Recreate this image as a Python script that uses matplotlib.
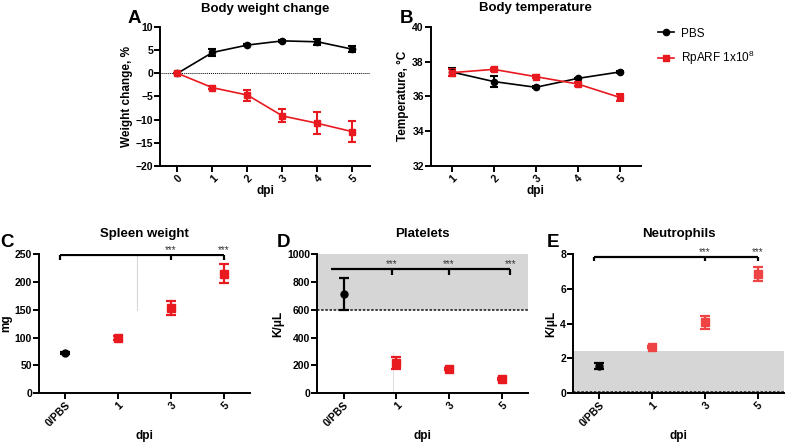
import matplotlib
matplotlib.use("Agg")
import matplotlib.pyplot as plt
from matplotlib.lines import Line2D

plt.rcParams['font.family'] = ['Liberation Sans', 'DejaVu Sans']
plt.rcParams['font.weight'] = 'bold'

# ---- data ----
days_a = [0, 1, 2, 3, 4, 5]
pbs_weight = [0, 4.5, 6.1, 7.0, 6.8, 5.2]
pbs_weight_err = [0, 0.8, 0.3, 0.2, 0.6, 0.6]
rp_weight = [0, -3.1, -4.7, -9.2, -10.8, -12.6]
rp_weight_err = [0, 0.3, 1.2, 1.4, 2.4, 2.2]

days_b = [1, 2, 3, 4, 5]
pbs_temp = [37.4, 36.85, 36.52, 37.03, 37.4]
pbs_temp_err = [0.25, 0.3, 0.05, 0.05, 0.05]
rp_temp = [37.36, 37.55, 37.13, 36.71, 35.94]
rp_temp_err = [0.2, 0.08, 0.08, 0.1, 0.18]

groups = ['0/PBS', '1', '3', '5']
spleen = [73, 99, 153, 215]
spleen_err = [2, 3, 12, 17]
platelets = [714, 216, 174, 104]
platelets_err = [115, 45, 10, 8]
neutrophils = [1.57, 2.68, 4.07, 6.83]
neutrophils_err = [0.15, 0.05, 0.38, 0.40]

RED = '#e8191f'
TICK_FS = 7.5
LAB_FS = 8.5
TITLE_FS = 9.5
fig = plt.figure(figsize=(7.85, 4.45), dpi=100)


def style(ax):
    for s in ['top', 'right']:
        ax.spines[s].set_visible(False)
    for s in ['left', 'bottom']:
        ax.spines[s].set_linewidth(1.4)
    ax.tick_params(direction='out', length=4, width=1.4, labelsize=TICK_FS, pad=1)
    for lab in ax.get_yticklabels():
        lab.set_fontweight('bold')


def xrot(ax, labels):
    ax.set_xticklabels(labels, rotation=45, ha='right', rotation_mode='anchor',
                       fontsize=TICK_FS, fontweight='bold')


# ---- A: body weight change ----
axA = fig.add_axes([0.2038, 0.627, 0.2675, 0.3124])
axA.axhline(0, color='black', lw=0.7, ls=(0, (1, 1)))
axA.errorbar(days_a, pbs_weight, yerr=pbs_weight_err, color='black', marker='o',
             ms=4.5, lw=1.2, elinewidth=1.5, capsize=3, capthick=1.5)
axA.errorbar(days_a, rp_weight, yerr=rp_weight_err, color=RED, marker='s',
             ms=5, lw=1.2, elinewidth=1.5, capsize=3, capthick=1.5)
axA.set_xlim(-0.5, 5.5)
axA.set_ylim(-20, 10)
axA.set_yticks([-20, -15, -10, -5, 0, 5, 10])
axA.set_xticks(days_a)
style(axA)
xrot(axA, [str(d) for d in days_a])
axA.set_xlabel('dpi', fontsize=LAB_FS, fontweight='bold', labelpad=1)
axA.set_ylabel('Weight change, %', fontsize=LAB_FS, fontweight='bold', labelpad=2)
axA.set_title('Body weight change', fontsize=TITLE_FS, fontweight='bold', pad=11)

# ---- B: body temperature ----
axB = fig.add_axes([0.5487, 0.627, 0.2675, 0.313])
axB.errorbar(days_b, pbs_temp, yerr=pbs_temp_err, color='black', marker='o',
             ms=4.5, lw=1.2, elinewidth=1.5, capsize=3, capthick=1.5)
axB.errorbar(days_b, rp_temp, yerr=rp_temp_err, color=RED, marker='s',
             ms=5, lw=1.2, elinewidth=1.5, capsize=3, capthick=1.5)
axB.set_xlim(0.5, 5.5)
axB.set_ylim(32, 40)
axB.set_yticks([32, 34, 36, 38, 40])
axB.set_xticks(days_b)
style(axB)
xrot(axB, [str(d) for d in days_b])
axB.set_xlabel('dpi', fontsize=LAB_FS, fontweight='bold', labelpad=1)
axB.set_ylabel('Temperature, °C', fontsize=LAB_FS, fontweight='bold', labelpad=2)
axB.set_title('Body temperature', fontsize=TITLE_FS, fontweight='bold', pad=11)
handles = [Line2D([], [], color='black', marker='o', ms=4.5, lw=1.2),
           Line2D([], [], color=RED, marker='s', ms=5, lw=1.2)]
axB.legend(handles, ['PBS', 'RpARF 1x10$^{\\mathregular{8}}$'], loc='upper left',
           bbox_to_anchor=(0.825, 0.962), bbox_transform=fig.transFigure,
           frameon=False, prop={'size': 8.5, 'weight': 'normal'},
           handlelength=1.3, handletextpad=0.6, labelspacing=0.8)


# ---- bottom dot panels ----
def dot_panel(rect, vals, errs, ylim, yticks, title, ylabel, red=RED):
    ax = fig.add_axes(rect)
    x = list(range(len(vals)))
    ax.errorbar(x[:1], vals[:1], yerr=errs[:1], color='black', marker='o', ms=5,
                ls='none', elinewidth=1.6, capsize=3.5, capthick=1.6, zorder=4)
    ax.errorbar(x[1:], vals[1:], yerr=errs[1:], color=red, marker='s', ms=6,
                ls='none', elinewidth=1.6, capsize=3.5, capthick=1.6, zorder=4)
    ax.set_xlim(-0.5, 3.5)
    ax.set_ylim(*ylim)
    ax.set_yticks(yticks)
    ax.set_xticks(x)
    style(ax)
    xrot(ax, groups)
    ax.set_xlabel('dpi', fontsize=LAB_FS, fontweight='bold', labelpad=1)
    ax.set_ylabel(ylabel, fontsize=LAB_FS, fontweight='bold', labelpad=2)
    ax.set_title(title, fontsize=TITLE_FS, fontweight='bold', pad=12)
    return ax


def bracket(ax, x0, x1, y, drop, star_x, left_drop=True):
    kw = dict(color='black', lw=1.6, solid_capstyle='butt', zorder=5)
    ax.plot([x0, x1], [y, y], **kw)
    if left_drop:
        ax.plot([x0, x0], [y, y - drop], **kw)
    for sx in star_x:
        ax.plot([sx, sx], [y, y - drop], **kw)
        ax.text(sx, y, '***', ha='center', va='bottom', fontsize=7,
                fontweight='normal', color='#333333')


axC = dot_panel([0.0497, 0.1162, 0.2688, 0.313], spleen, spleen_err, (0, 250),
                [0, 50, 100, 150, 200, 250], 'Spleen weight', 'mg')
axC.plot([1.35, 1.35], [150, 250], color='#d8d8d8', lw=0.8, zorder=1)
bracket(axC, -0.11, 3.0, 248, 9, [2, 3])

axD = dot_panel([0.4042, 0.1162, 0.2688, 0.313], platelets, platelets_err, (0, 1000),
                [0, 200, 400, 600, 800, 1000], 'Platelets', 'K/μL')
axD.axhspan(595, 1000, color='#d6d6d6', lw=0, zorder=0)
axD.axhline(595, color='#222222', lw=1.2, ls=(0, (1.5, 1)), zorder=1)
axD.plot([0.93, 0.93], [0, 300], color='#e0e0e0', lw=0.8, zorder=1)
bracket(axD, -0.24, 3.16, 893, 43, [0.91, 1.99, 3.16], left_drop=False)

axE = dot_panel([0.7299, 0.1162, 0.2688, 0.313], neutrophils, neutrophils_err, (0, 8),
                [0, 2, 4, 6, 8], 'Neutrophils', 'K/μL', red='#ee4444')
axE.axhspan(0.1, 2.45, color='#d6d6d6', lw=0, zorder=0)
axE.axhline(0.1, color='#222222', lw=1.2, ls=(0, (1.5, 1)), zorder=1)
bracket(axE, -0.11, 3.0, 7.85, 0.27, [2, 3])

# panel letters
for lab, x, y in [('A', 0.162, 0.94), ('B', 0.509, 0.94), ('C', 0.0, 0.437),
                  ('D', 0.352, 0.437), ('E', 0.697, 0.437)]:
    fig.text(x, y, lab, fontsize=13.5, fontweight='bold', va='bottom')

fig.savefig('out.png', dpi=100)
